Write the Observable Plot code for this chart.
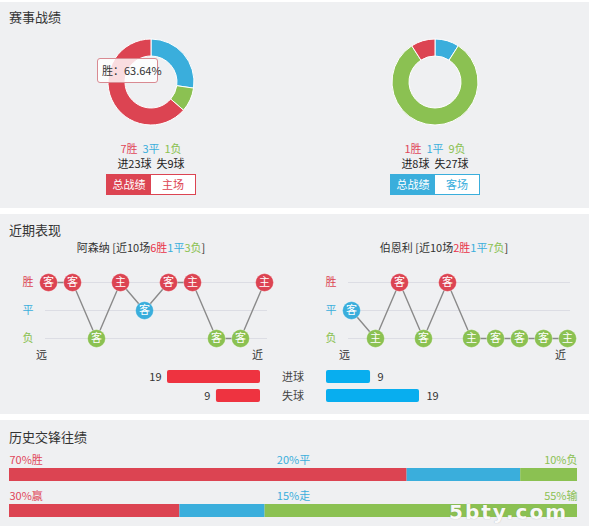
<!DOCTYPE html>
<html>
<head>
<meta charset="utf-8">
<script src="https://cdn.jsdelivr.net/npm/d3@7"></script>
<script src="https://cdn.jsdelivr.net/npm/@observablehq/plot@0.6"></script>
<style>
  body { margin: 0; background: #fff; font-family: "Noto Sans CJK SC", "Noto Sans", sans-serif; color: #333; }
  #root { position: relative; width: 589px; height: 526px; overflow: hidden; background: #fff; }
  .abs { position: absolute; }
  .panel { position: absolute; left: 0; width: 589px; background: #eff0f2; }
  .title { position: absolute; left: 9px; font-size: 13px; line-height: 16px; color: #333; }
  .ctr { position: absolute; transform: translate(-50%, -50%); white-space: nowrap; font-size: 11px; line-height: 14px; }
  .btn { position: absolute; height: 21px; width: 90px; display: flex; font-size: 11px; line-height: 19px; box-sizing: border-box; }
  .btn div { flex: 1; text-align: center; }
  .abs svg { overflow: visible; }
</style>
</head>
<body>
<div id="root"></div>
<script>
// ---------- data ----------
const red = "#dc4452", blue = "#3aaedc", green = "#8bc152";
const outcomes = ["胜", "平", "负"];

// 赛事战绩
const team1Name = "阿森纳", team2Name = "伯恩利";
const team1Record = [7, 3, 1];          // 胜 平 负
const team1Goals = [23, 9];             // 进 失
const team2Record = [1, 1, 9];
const team2Goals = [8, 27];
const team1Tab = ["总战绩", "主场"];
const team2Tab = ["总战绩", "客场"];

// 近期表现
const team1Form = ["胜", "胜", "负", "胜", "平", "胜", "胜", "负", "负", "胜"];
const team1Venue = ["客", "客", "客", "主", "客", "客", "主", "客", "客", "主"];
const team2Form = ["平", "负", "胜", "负", "胜", "负", "负", "负", "负", "负"];
const team2Venue = ["客", "主", "客", "客", "客", "主", "客", "客", "客", "主"];
const goalLabels = ["进球", "失球"];
const team1RecentGoals = [19, 9];
const team2RecentGoals = [9, 19];

// 历史交锋往绩
const histLabels1 = ["胜", "平", "负"];
const histValues1 = [70, 20, 10];
const histLabels2 = ["赢", "走", "输"];
const histValues2 = [30, 15, 55];

// ---------- layout helpers ----------
const root = document.getElementById("root");
function el(tag, cls, style, html) {
  const e = document.createElement(tag);
  if (cls) e.className = cls;
  Object.assign(e.style, style || {});
  if (html != null) e.innerHTML = html;
  root.appendChild(e);
  return e;
}
function place(node, left, top) {
  const d = el("div", "abs", {left: left + "px", top: top + "px"});
  d.appendChild(node);
  return d;
}
const baseStyle = {background: "transparent", fontFamily: '"Noto Sans CJK SC", sans-serif', fontSize: "11px", overflow: "visible"};

// panels
el("div", "panel", {top: "2px", height: "206px"});
el("div", "panel", {top: "214px", height: "200px"});
el("div", "panel", {top: "420px", height: "106px"});
el("div", "title", {top: "9px"}, "赛事战绩");
el("div", "title", {top: "222px"}, "近期表现");
el("div", "title", {top: "429px"}, "历史交锋往绩");

// ---------- donuts ----------
function donut(record) {
  // clockwise from top: 平, 负, 胜
  const vals = [record[1], record[2], record[0]];
  const cols = [blue, green, red];
  return Plot.plot({
    width: 100, height: 100, margin: 0, style: baseStyle,
    marks: [
      (index, scales, values, dims) => {
        const g = d3.create("svg:g").attr("transform", `translate(${dims.width / 2},${dims.height / 2})`);
        const arcs = d3.pie().sort(null)(vals);
        const arc = d3.arc().innerRadius(26).outerRadius(43);
        g.selectAll("path").data(arcs).join("path")
          .attr("d", arc).attr("fill", (d, i) => cols[i])
          .attr("stroke", "#fff").attr("stroke-width", 1);
        return g.node();
      }
    ]
  });
}
place(donut(team1Record), 101, 32);
place(donut(team2Record), 385, 32);

// tooltip
const winPct = (team1Record[0] / d3.sum(team1Record) * 100).toFixed(2);
el("div", "abs", {left: "97px", top: "58px", width: "61px", height: "25px", boxSizing: "border-box",
  border: "1px solid #d98a92", borderRadius: "3px", background: "rgba(255,255,255,0.82)",
  fontSize: "11px", lineHeight: "23px", paddingLeft: "4px", color: "#333", whiteSpace: "nowrap"}, `胜：${winPct}%`);

function recordText(rec, goals, cx) {
  el("div", "ctr", {left: cx + "px", top: "148px"},
    `<span style="color:#e0475a">${rec[0]}胜</span>&nbsp;&nbsp;<span style="color:${blue}">${rec[1]}平</span>&nbsp;&nbsp;<span style="color:${green}">${rec[2]}负</span>`);
  el("div", "ctr", {left: cx + "px", top: "163px", color: "#222"}, `进${goals[0]}球&nbsp;&nbsp;失${goals[1]}球`);
}
recordText(team1Record, team1Goals, 151);
recordText(team2Record, team2Goals, 435);

function tabs(labels, color, left) {
  const b = el("div", "btn", {left: left + "px", top: "174px", border: `1px solid ${color}`});
  b.innerHTML = `<div style="background:${color};color:#fff">${labels[0]}</div><div style="background:#fff;color:${color}">${labels[1]}</div>`;
}
tabs(team1Tab, red, 106);
tabs(team2Tab, blue, 390);

// ---------- recent form ----------
function subtitle(name, form, cx) {
  const c = outcomes.map(o => form.filter(f => f === o).length);
  el("div", "ctr", {left: cx + "px", top: "247px", color: "#333"},
    `${name} [近${form.length}场<span style="color:#e8334a">${c[0]}胜</span><span style="color:${blue}">${c[1]}平</span><span style="color:${green}">${c[2]}负</span>]`);
}
subtitle(team1Name, team1Form, 141);
subtitle(team2Name, team2Form, 444);

function formChart(form, venue, width, marginLeft, marginRight) {
  const data = form.map((r, i) => ({i, r, v: venue[i]}));
  const n = form.length;
  return Plot.plot({
    width, height: 110, marginLeft, marginRight, marginTop: 21, marginBottom: 32,
    style: baseStyle,
    x: {type: "point", domain: d3.range(n), padding: 0, axis: null},
    y: {type: "point", domain: outcomes, padding: 0, axis: null},
    color: {domain: outcomes, range: [red, blue, green]},
    marks: [
      Plot.ruleY(outcomes, {y: d => d, x1: () => 0, x2: () => n - 1, stroke: "#dcdde4", strokeWidth: 1.2, insetLeft: -3, insetRight: -3}),
      Plot.line(data, {x: "i", y: "r", stroke: "#8a8a8a", strokeWidth: 1.4}),
      Plot.dot(data, {x: "i", y: "r", r: 9, fill: "r", stroke: "#fff", strokeOpacity: 0.35, strokeWidth: 1}),
      Plot.text(data, {x: "i", y: "r", text: "v", fill: "#fff", fontSize: 11}),
      Plot.text(outcomes, {y: d => d, text: d => d, frameAnchor: "left", dx: -25, fill: d => d, fontSize: 11}),
      Plot.text(["远", "近"], {x: (d, i) => (i === 0 ? 0 : n - 1), text: d => d, frameAnchor: "bottom", dy: 20, dx: -7, fill: "#333", fontSize: 11})
    ]
  });
}
place(formChart(team1Form, team1Venue, 290, 47, 25), 0, 260);
place(formChart(team2Form, team2Venue, 299, 60, 21), 290, 260);

// goal bars
function goalBars(values, color, xRange, dx, anchor) {
  const data = goalLabels.map((k, i) => ({k, v: values[i]}));
  return Plot.plot({
    width: 140, height: 42, margin: 0, style: baseStyle,
    x: {domain: [0, 19], range: xRange, axis: null},
    y: {type: "band", domain: goalLabels, range: [5, 37], paddingInner: 0.316, paddingOuter: 0, axis: null},
    marks: [
      Plot.barX(data, {x: "v", y: "k", fill: color, rx: 2}),
      Plot.text(data, {x: "v", y: "k", text: d => String(d.v), dx, textAnchor: anchor, fill: "#333", fontSize: 11})
    ]
  });
}
place(goalBars(team1RecentGoals, "#ee3340", [130, 37], -6, "end"), 130, 365);
place(goalBars(team2RecentGoals, "#08aeef", [6, 99], 7, "start"), 320, 365);
goalLabels.forEach((g, i) => el("div", "ctr", {left: "293px", top: (376 + i * 19) + "px", color: "#444"}, g));

// ---------- history ----------
const rows = ["r1", "r2"];
const histSegs = [];
[[histValues1, histLabels1], [histValues2, histLabels2]].forEach(([vals, labs], r) =>
  vals.forEach((v, k) => histSegs.push({row: rows[r], k, v, label: `${v}%${labs[k]}`})));
const histPlot = Plot.plot({
  width: 589, height: 86, margin: 0, style: baseStyle,
  x: {domain: [0, 100], range: [9, 577], axis: null},
  y: {type: "band", domain: rows, range: [27.7, 77], paddingInner: 0.642, paddingOuter: 0, axis: null},
  color: {domain: [0, 1, 2], range: [red, blue, green]},
  marks: [
    Plot.barX(histSegs, Plot.stackX({x: "v", y: "row", fill: "k"})),
    Plot.text(histSegs.filter(d => d.k === 0), {x: () => 0, y: "row", text: "label", textAnchor: "start", dy: -14.8, fill: "#e0475a", fontSize: 11}),
    Plot.text(histSegs.filter(d => d.k === 1), {x: () => 50, y: "row", text: "label", textAnchor: "middle", dy: -14.8, fill: blue, fontSize: 11}),
    Plot.text(histSegs.filter(d => d.k === 2), {x: () => 100, y: "row", text: "label", textAnchor: "end", dy: -14.8, fill: green, fontSize: 11})
  ]
});
place(histPlot, 0, 440);

// watermark
el("div", "abs", {left: "449px", top: "505px", fontFamily: '"DejaVu Sans", sans-serif', fontWeight: "bold",
  fontSize: "20px", lineHeight: "15px", letterSpacing: "2px", color: "rgba(255,255,255,0.95)",
  textShadow: "0 0 1px rgba(120,120,120,0.5)"}, "5bty.com");
</script>
</body>
</html>
